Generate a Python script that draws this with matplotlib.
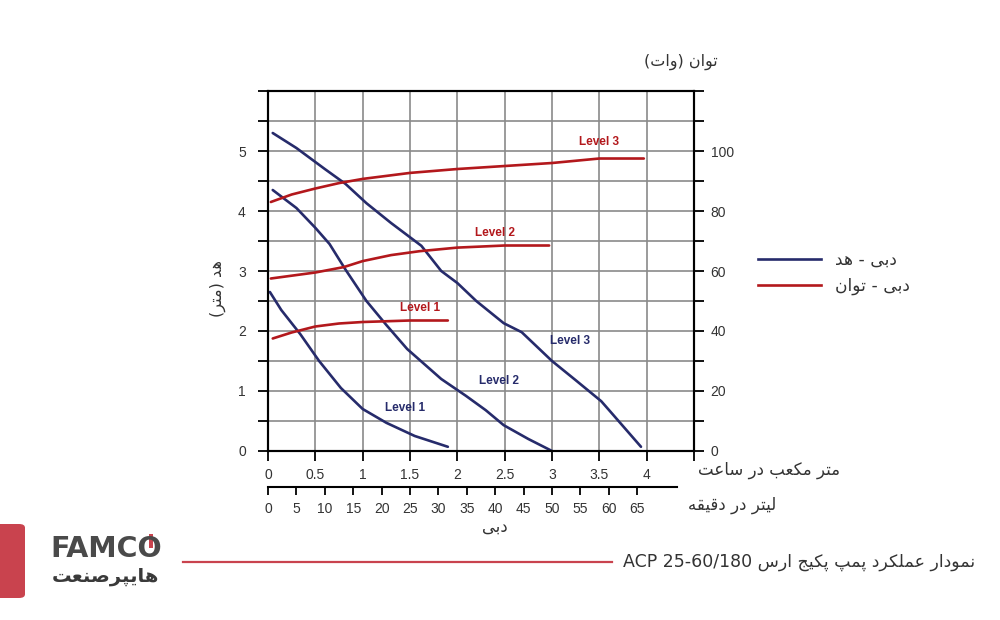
import numpy as np
import matplotlib
matplotlib.use('Agg')
import matplotlib.pyplot as plt
from matplotlib.patches import FancyBboxPatch, Rectangle
from matplotlib.lines import Line2D

# ---- data ----
# head curves (flow m3/h -> head m)
head_l1_x = [0.02, 0.14, 0.34, 0.54, 0.77, 1.0, 1.25, 1.55, 1.9]
head_l1_y = [2.65, 2.35, 1.95, 1.5, 1.05, 0.7, 0.47, 0.25, 0.07]
head_l2_x = [0.05, 0.3, 0.5, 0.65, 0.82, 1.04, 1.25, 1.47, 1.65, 1.83, 2.09, 2.3, 2.49, 2.75, 3.0]
head_l2_y = [4.35, 4.05, 3.72, 3.45, 3.02, 2.5, 2.1, 1.7, 1.45, 1.2, 0.92, 0.68, 0.43, 0.2, 0.0]
head_l3_x = [0.05, 0.3, 0.6, 0.82, 1.04, 1.3, 1.62, 1.83, 2.0, 2.2, 2.49, 2.68, 3.0, 3.25, 3.52, 3.62, 3.94]
head_l3_y = [5.3, 5.05, 4.7, 4.45, 4.13, 3.8, 3.42, 3.0, 2.8, 2.5, 2.13, 1.98, 1.5, 1.18, 0.83, 0.65, 0.07]

# power curves (flow m3/h -> power W)
pow_l1_x = [0.05, 0.25, 0.5, 0.75, 1.0, 1.5, 1.9]
pow_l1_y = [37.5, 39.5, 41.5, 42.5, 43, 43.5, 43.5]
pow_l2_x = [0.03, 0.5, 0.8, 1.0, 1.3, 1.6, 2.0, 2.5, 2.97]
pow_l2_y = [57.5, 59.5, 61.3, 63.3, 65.3, 66.6, 67.8, 68.5, 68.5]
pow_l3_x = [0.03, 0.25, 0.5, 0.75, 1.0, 1.5, 2.0, 2.5, 3.0, 3.5, 3.97]
pow_l3_y = [83, 85.5, 87.5, 89.3, 90.7, 92.7, 94, 95, 96, 97.5, 97.5]

flow_ticks = [0, 0.5, 1, 1.5, 2, 2.5, 3, 3.5, 4]
lpm_ticks = list(range(0, 70, 5))
head_ticks = [0, 1, 2, 3, 4, 5]
power_ticks = [0, 20, 40, 60, 80, 100]

BLUE = '#262b6b'
RED = '#b3181c'
GRID = '#8a8a8a'
BRAND = '#c9434e'

# ---- tiny persian shaper (matplotlib has no shaping / bidi) ----
FORMS = {
    '\u0627': ('\uFE8D', '\uFE8E', None, None),
    '\u0628': ('\uFE8F', '\uFE90', '\uFE91', '\uFE92'),
    '\u067E': ('\uFB56', '\uFB57', '\uFB58', '\uFB59'),
    '\u062A': ('\uFE95', '\uFE96', '\uFE97', '\uFE98'),
    '\u062C': ('\uFE9D', '\uFE9E', '\uFE9F', '\uFEA0'),
    '\u062F': ('\uFEA9', '\uFEAA', None, None),
    '\u0631': ('\uFEAD', '\uFEAE', None, None),
    '\u0633': ('\uFEB1', '\uFEB2', '\uFEB3', '\uFEB4'),
    '\u0635': ('\uFEB9', '\uFEBA', '\uFEBB', '\uFEBC'),
    '\u0639': ('\uFEC9', '\uFECA', '\uFECB', '\uFECC'),
    '\u0642': ('\uFED5', '\uFED6', '\uFED7', '\uFED8'),
    '\u06A9': ('\uFB8E', '\uFB8F', '\uFB90', '\uFB91'),
    '\u0644': ('\uFEDD', '\uFEDE', '\uFEDF', '\uFEE0'),
    '\u0645': ('\uFEE1', '\uFEE2', '\uFEE3', '\uFEE4'),
    '\u0646': ('\uFEE5', '\uFEE6', '\uFEE7', '\uFEE8'),
    '\u0648': ('\uFEED', '\uFEEE', None, None),
    '\u0647': ('\uFEE9', '\uFEEA', '\uFEEB', '\uFEEC'),
    '\u06CC': ('\uFBFC', '\uFBFD', '\uFBFE', '\uFBFF'),
}
MIRROR = {'(': ')', ')': '('}


def fa(s):
    out = []
    for i, c in enumerate(s):
        if c not in FORMS:
            out.append(MIRROR.get(c, c))
            continue
        prev = s[i - 1] if i > 0 else None
        nxt = s[i + 1] if i + 1 < len(s) else None
        jp = prev in FORMS and FORMS[prev][2] is not None
        jn = nxt in FORMS and FORMS[c][2] is not None
        iso, fin, ini, med = FORMS[c]
        if jp and jn:
            out.append(med)
        elif jp:
            out.append(fin)
        elif jn:
            out.append(ini)
        else:
            out.append(iso)
    return ''.join(out[::-1])


plt.rcParams['font.family'] = ['Liberation Sans', 'DejaVu Sans']

fig = plt.figure(figsize=(10, 6.2), dpi=100)
ax = fig.add_axes([0.268, 0.2726, 0.426, 0.5806])

ax.set_xlim(0, 4.5)
ax.set_ylim(0, 6)
ax.set_xticks(np.arange(0, 4.51, 0.5))
ax.set_xticklabels([('%g' % v) if v <= 4 else '' for v in np.arange(0, 4.51, 0.5)])
ax.set_yticks(np.arange(0, 6.01, 0.5))
ax.set_yticklabels([('%d' % v) if v in head_ticks else '' for v in np.arange(0, 6.01, 0.5)])
ax.grid(True, color=GRID, lw=1.2, zorder=0)
ax.set_axisbelow(True)
ax.tick_params(direction='out', length=7, width=1.3, labelsize=10, labelcolor='#333333', pad=5)
ax.tick_params(axis='y', pad=9)
for sp in ax.spines.values():
    sp.set_linewidth(1.5)

ax2 = ax.twinx()
ax2.set_ylim(0, 120)
ax2.set_yticks(np.arange(0, 121, 10))
ax2.set_yticklabels([('%d' % v) if v in power_ticks else '' for v in np.arange(0, 121, 10)])
ax2.tick_params(direction='out', length=7, width=1.3, labelsize=10, labelcolor='#333333', pad=5)
for sp in ax2.spines.values():
    sp.set_linewidth(1.5)

# head curves
for xs, ys in [(head_l1_x, head_l1_y), (head_l2_x, head_l2_y), (head_l3_x, head_l3_y)]:
    ax.plot(xs, ys, color=BLUE, lw=1.9, solid_capstyle='round', zorder=3)
# power curves
for xs, ys in [(pow_l1_x, pow_l1_y), (pow_l2_x, pow_l2_y), (pow_l3_x, pow_l3_y)]:
    ax2.plot(xs, ys, color=RED, lw=1.9, solid_capstyle='round', zorder=3)

lk = dict(fontsize=8.5, fontweight='bold', ha='center', va='center')
ax.text(1.45, 0.72, 'Level 1', color=BLUE, **lk)
ax.text(2.44, 1.17, 'Level 2', color=BLUE, **lk)
ax.text(3.19, 1.83, 'Level 3', color=BLUE, **lk)
ax2.text(1.61, 47.7, 'Level 1', color=RED, **lk)
ax2.text(2.4, 72.7, 'Level 2', color=RED, **lk)
ax2.text(3.5, 103, 'Level 3', color=RED, **lk)

# second flow axis in litres per minute
sec = ax.secondary_xaxis(-0.1, functions=(lambda x: x / 0.06, lambda x: x * 0.06))
sec.set_xticks(lpm_ticks)
sec.set_xticklabels([str(v) for v in lpm_ticks])
sec.tick_params(direction='out', length=6, width=1.3, labelsize=10, labelcolor='#333333', pad=5)
sec.spines['bottom'].set_linewidth(1.5)
sec.spines['bottom'].set_bounds(0, 72)

# persian labels
pk = dict(family=['DejaVu Sans'], color='#333333')
fig.text(0.718, 1 - 62 / 620, fa('توان (وات)'), ha='right', va='center', fontsize=11.5, **pk)
fig.text(0.218, 1 - 288 / 620, fa('هد (متر)'), ha='center', va='center', rotation=90, fontsize=11.5, **pk)
fig.text(0.698, 1 - 470 / 620, fa('متر مکعب در ساعت'), ha='left', va='center', fontsize=12, **pk)
fig.text(0.688, 1 - 505 / 620, fa('لیتر در دقیقه'), ha='left', va='center', fontsize=12, **pk)
fig.text(0.495, 1 - 527 / 620, fa('دبی'), ha='center', va='center', fontsize=12, **pk)

# legend
hb = Line2D([], [], color=BLUE, lw=1.9)
hr = Line2D([], [], color=RED, lw=1.9)
leg = fig.legend([hb, hr], [fa('دبی - هد'), fa('دبی - توان')], loc='center left',
                 bbox_to_anchor=(0.758, 1 - 273 / 620), frameon=False, handlelength=3.7,
                 handletextpad=0.8, labelspacing=0.45, borderpad=0, borderaxespad=0,
                 prop={'family': 'DejaVu Sans', 'size': 12.3})
for t in leg.get_texts():
    t.set_color('#333333')

# footer: brand tab, logo, rule and title
fig.patches.append(FancyBboxPatch((-0.02, 1 - 598 / 620), 0.045, 74 / 620,
                                  boxstyle='round,pad=0,rounding_size=0.006',
                                  transform=fig.transFigure, facecolor=BRAND, edgecolor='none'))
fig.text(0.05, 1 - 549 / 620, 'FAMCO', ha='left', va='center', fontsize=20.5,
         fontweight='bold', color='#4a4a4a', family=['DejaVu Sans'])
fig.patches.append(Rectangle((0.149, 1 - 548 / 620), 0.004, 14 / 620,
                             transform=fig.transFigure, facecolor=BRAND, edgecolor='none'))
fig.text(0.105, 1 - 576 / 620, fa('هایپرصنعت'), ha='center', va='center', fontsize=14,
         fontweight='bold', color='#3a3a3a', family=['DejaVu Sans'])
fig.add_artist(Line2D([0.183, 0.612], [1 - 562 / 620, 1 - 562 / 620],
                      transform=fig.transFigure, color=BRAND, lw=1.6))
fig.text(0.975, 1 - 562 / 620, 'ACP 25-60/180 ' + fa('نمودار عملکرد پمپ پکیج ارس'),
         ha='right', va='center', fontsize=12.5, color='#333333', family=['DejaVu Sans'])

fig.savefig('out.png', dpi=100)
